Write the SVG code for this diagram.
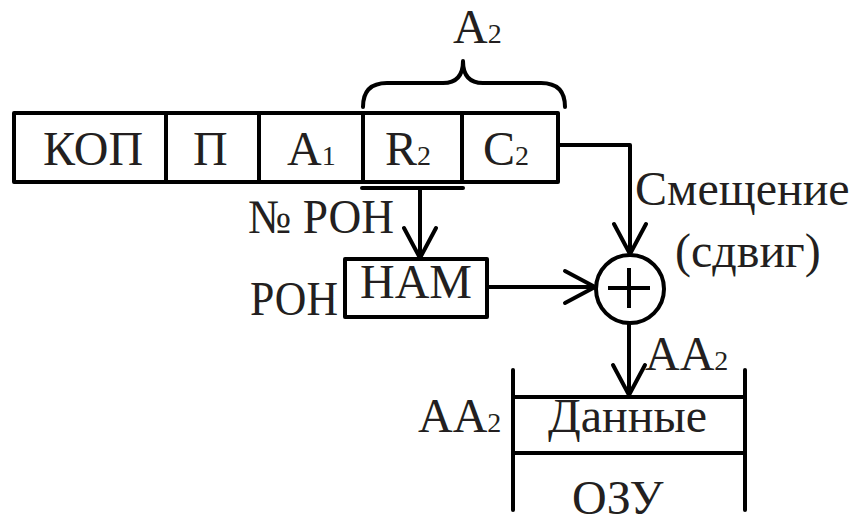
<svg xmlns="http://www.w3.org/2000/svg" width="853" height="524" viewBox="0 0 853 524">
<style>
.t{font-size:48px;}
.s{font-size:28px;}
.ln{stroke:#000;stroke-width:4;fill:none;stroke-linejoin:round;}
</style>
<defs>
<marker id="ah" markerUnits="userSpaceOnUse" markerWidth="40" markerHeight="40" viewBox="-36 -20 40 40" refX="0" refY="0" orient="auto" overflow="visible">
<path d="M-30,-16 L0,0 L-30,16" fill="none" stroke="#000" stroke-width="4" stroke-linecap="round" stroke-linejoin="round"/>
</marker>
</defs>
<g id="register">
<rect class="ln" x="14" y="113" width="544" height="69"/>
<line class="ln" x1="166" y1="113" x2="166" y2="182"/>
<line class="ln" x1="259" y1="113" x2="259" y2="182"/>
<line class="ln" x1="363" y1="113" x2="363" y2="182"/>
<line class="ln" x1="462" y1="113" x2="462" y2="182"/>
<text class="t" font-family="Liberation Serif, serif" fill="#231f20" x="43" y="165">КОП</text>
<text class="t" font-family="Liberation Serif, serif" fill="#231f20" x="193" y="165">П</text>
<text class="t" font-family="Liberation Serif, serif" fill="#231f20" x="287" y="165">A<tspan class="s">1</tspan></text>
<text class="t" font-family="Liberation Serif, serif" fill="#231f20" x="385" y="165">R<tspan class="s">2</tspan></text>
<text class="t" font-family="Liberation Serif, serif" fill="#231f20" x="483" y="165">C<tspan class="s">2</tspan></text>
</g>
<g id="brace">
<path class="ln" d="M363,107 Q363,83 387,83 L443,83 Q463,83 463,61 Q463,83 483,83 L541,83 Q565,83 565,107" stroke-linecap="round"/>
<text class="t" font-family="Liberation Serif, serif" fill="#231f20" x="453" y="43">A<tspan class="s">2</tspan></text>
</g>
<g id="ham">
<rect class="ln" x="345" y="259" width="142" height="58"/>
<text class="t" font-family="Liberation Serif, serif" fill="#231f20" x="360" y="298">НАМ</text>
<text class="t" font-family="Liberation Serif, serif" fill="#231f20" x="250" y="315" textLength="88" lengthAdjust="spacingAndGlyphs">РОН</text>
</g>
<g id="adder">
<circle class="ln" cx="630" cy="289" r="34"/>
<line class="ln" x1="608" y1="288" x2="650" y2="288"/>
<line class="ln" x1="629" y1="268" x2="629" y2="308"/>
<text class="t" font-family="Liberation Serif, serif" fill="#231f20" x="635" y="205">Смещение</text>
<text class="t" font-family="Liberation Serif, serif" fill="#231f20" x="675" y="267">(сдвиг)</text>
</g>
<g id="ozu">
<line class="ln" x1="513" y1="370" x2="513" y2="510" stroke-linecap="round"/>
<line class="ln" x1="745" y1="370" x2="745" y2="510" stroke-linecap="round"/>
<line class="ln" x1="513" y1="397" x2="745" y2="397"/>
<line class="ln" x1="513" y1="453" x2="745" y2="453"/>
<text class="t" font-family="Liberation Serif, serif" fill="#231f20" x="548" y="432">Данные</text>
<text class="t" font-family="Liberation Serif, serif" fill="#231f20" x="572" y="514">ОЗУ</text>
<text class="t" font-family="Liberation Serif, serif" fill="#231f20" x="418" y="432">AA<tspan class="s">2</tspan></text>
</g>
<g id="connectors">
<line class="ln" x1="362" y1="188" x2="463" y2="188" stroke-linecap="round"/>
<path class="ln" d="M420,188 V258" marker-end="url(#ah)"/>
<text class="t" font-family="Liberation Serif, serif" fill="#231f20" x="248" y="233" textLength="146" lengthAdjust="spacingAndGlyphs">№ РОН</text>
<path class="ln" d="M558,145 H630 V254" marker-end="url(#ah)"/>
<path class="ln" d="M487,287 H595" marker-end="url(#ah)"/>
<path class="ln" d="M629,323 V395" marker-end="url(#ah)"/>
<text class="t" font-family="Liberation Serif, serif" fill="#231f20" x="645" y="370">AA<tspan class="s">2</tspan></text>
</g>
</svg>
